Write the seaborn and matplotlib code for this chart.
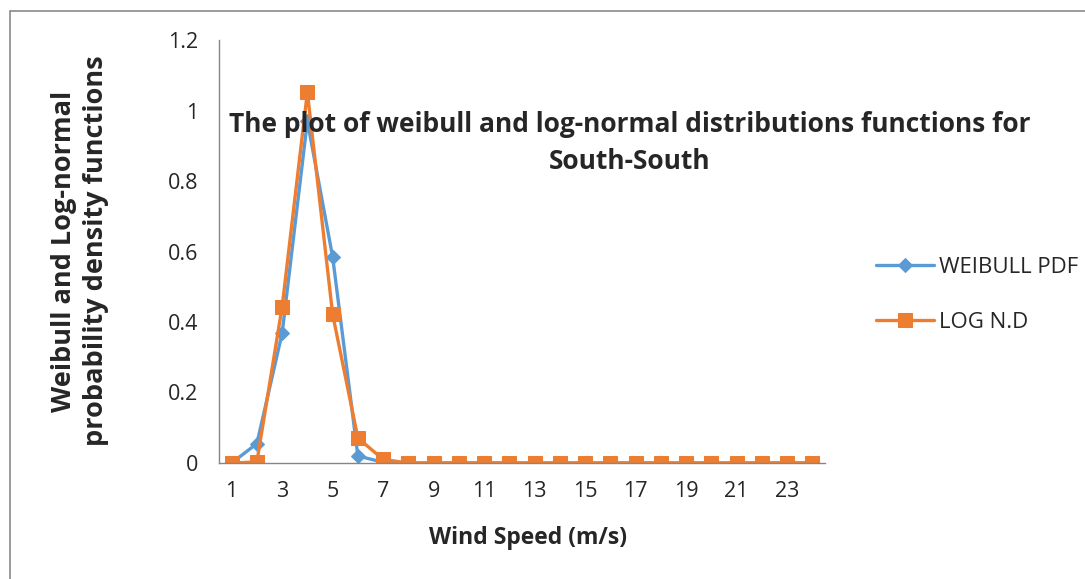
import matplotlib
matplotlib.use("Agg")
import matplotlib.pyplot as plt
import seaborn as sns
import numpy as np
from matplotlib.patches import Rectangle
from matplotlib.ticker import FixedLocator, NullFormatter

wind_speed = list(range(1, 25))
weibull_pdf = [0.0, 0.055, 0.368, 0.97, 0.585, 0.02, 0.002] + [0.0] * 17
log_nd = [0.0, 0.003, 0.443, 1.052, 0.422, 0.071, 0.01] + [0.0] * 17
series_names = ["WEIBULL PDF", "LOG N.D"]
x_tick_labels = [str(v) for v in range(1, 24, 2)]

sns.set_style("white")
plt.rcParams["font.family"] = ["Open Sans", "DejaVu Sans"]

fig = plt.figure(figsize=(10.85, 5.79), dpi=100)
ax = fig.add_axes([219 / 1085, 1 - 463 / 579, 606 / 1085, 423 / 579])

blue = "#5B9BD5"
orange = "#ED7D31"

sns.lineplot(x=wind_speed, y=weibull_pdf, ax=ax, color=blue, lw=2.4,
             marker="D", markersize=7.5, markeredgecolor=blue, label=series_names[0])
sns.lineplot(x=wind_speed, y=log_nd, ax=ax, color=orange, lw=2.4,
             marker="s", markersize=10, markeredgecolor=orange, label=series_names[1])

ax.set_xlim(0.5, 24.5)
ax.set_ylim(0, 1.2)
ax.set_yticks(np.arange(0, 1.21, 0.2))
ax.set_yticklabels(["0", "0.2", "0.4", "0.6", "0.8", "1", "1.2"])
ax.xaxis.set_major_locator(FixedLocator(np.arange(0.5, 25, 1)))
ax.xaxis.set_major_formatter(NullFormatter())
ax.xaxis.set_minor_locator(FixedLocator(list(range(1, 24, 2))))
ax.set_xticklabels(x_tick_labels, minor=True)
ax.tick_params(axis="x", which="major", direction="out", length=6, color="#868686", width=1)
ax.tick_params(axis="x", which="minor", length=0, pad=13, labelsize=15.5)
ax.tick_params(axis="y", direction="out", length=7, color="#868686", width=1, labelsize=15.5, pad=8)

for s in ["top", "right"]:
    ax.spines[s].set_visible(False)
for s in ["left", "bottom"]:
    ax.spines[s].set_color("#868686")
    ax.spines[s].set_linewidth(1)
ax.grid(False)
ax.set_xlabel("")
ax.set_ylabel("")

fig.text(630 / 1085, 1 - 143 / 579,
         "The plot of weibull and log-normal distributions functions for\nSouth-South",
         ha="center", va="center", fontsize=19, fontweight="bold", linespacing=1.45)

fig.text(80 / 1085, 1 - 251 / 579, "Weibull and Log-normal\nprobability density functions",
         rotation=90, ha="center", va="center", fontsize=19.5, fontweight="bold",
         multialignment="center", linespacing=1.3)
fig.text(528 / 1085, 1 - 538 / 579, "Wind Speed (m/s)", ha="center", va="center",
         fontsize=16.5, fontweight="bold")

ax.get_legend().remove()
handles, labels = ax.get_legend_handles_labels()
fig.legend(handles, labels, loc="center left", bbox_to_anchor=(856 / 1085, 1 - 295 / 579),
           frameon=False, fontsize=16, handlelength=2.6, labelspacing=1.55, handletextpad=0.25)

fig.patches.append(Rectangle((10 / 1085, -0.1), 1.2, 1 - 11 / 579 + 0.1,
                             transform=fig.transFigure, fill=False,
                             edgecolor="#8a8a8a", linewidth=1.2, figure=fig))

fig.savefig("out.png", dpi=100)
